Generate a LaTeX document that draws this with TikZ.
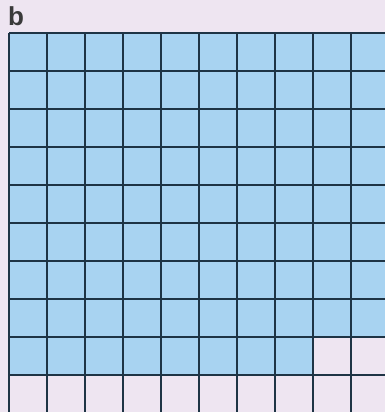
\documentclass[tikz,border=0pt]{standalone}
\usepackage{fontspec}
\setmainfont{Liberation Sans}
\definecolor{lavender}{HTML}{EEE5F1}
\definecolor{cellblue}{HTML}{A8D3F1}
\definecolor{gridline}{HTML}{1E3445}
\definecolor{labelgray}{HTML}{3A3A3A}

\begin{document}
\begin{tikzpicture}[x=1pt,y=-1pt]
    % Background
    \fill[lavender] (0,0) rectangle (385,412);
    \useasboundingbox (0,0) rectangle (385,412);
    \clip (0,0) rectangle (385,412);

    \def\cell{38}
    \def\gx{9}
    \def\gy{33}

    % Filled cells: eight full rows, then eight cells of row nine
    \fill[cellblue] (\gx,\gy) rectangle ++(10*\cell,8*\cell);
    \fill[cellblue] (\gx,\gy+8*\cell) rectangle ++(8*\cell,\cell);

    % Grid lines
    \foreach \i in {0,...,10} {
        \draw[gridline, line width=1.6pt] (\gx+\i*\cell,\gy) -- ++(0,10*\cell);
        \draw[gridline, line width=1.6pt] (\gx,\gy+\i*\cell) -- ++(10*\cell,0);
    }

    % Panel label
    \node[labelgray, font=\fontsize{26}{26}\selectfont\bfseries, anchor=south west, inner sep=0pt] (panel) at (8,26) {b};

\end{tikzpicture}
\end{document}
